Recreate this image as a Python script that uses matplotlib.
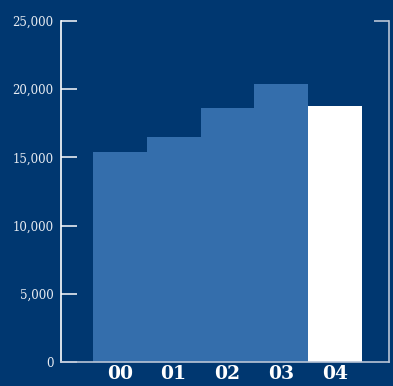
import matplotlib
matplotlib.use("Agg")
import matplotlib.pyplot as plt

# Yıllık değerler (2000-2004)
yillar = ["00", "01", "02", "03", "04"]
degerler = [15400, 16500, 18600, 20400, 18800]
renkler = ["#346eac", "#346eac", "#346eac", "#346eac", "#ffffff"]
y_ticks = [0, 5000, 10000, 15000, 20000, 25000]

arka = "#003770"

fig = plt.figure(figsize=(3.93, 3.86), dpi=100, facecolor=arka)
ax = fig.add_axes([0.154, 0.0622, 0.836, 0.8834], facecolor=arka)

ax.bar(range(len(yillar)), degerler, width=1.0, color=renkler, linewidth=0)

ax.set_xlim(-1.1, 5.0)
ax.set_ylim(0, 25000)
ax.set_yticks(y_ticks)
ax.set_yticklabels([f"{v:,}" for v in y_ticks], family="DejaVu Serif",
                   fontsize=8.5, color="#e8ecf2")
ax.set_xticks(range(len(yillar)))
ax.set_xticklabels(yillar, family="DejaVu Serif", fontsize=13.5,
                   fontweight="bold", color="white")

ax.tick_params(axis="y", direction="in", length=11.5, width=1.2,
               color="#e8ecf2", pad=5)
ax.tick_params(axis="x", length=0, pad=2)

ax.spines["top"].set_visible(False)
ax.spines["left"].set_color("white")
ax.spines["left"].set_linewidth(1.2)
ax.spines["bottom"].set_color("#b8c4d6")
ax.spines["bottom"].set_linewidth(1.2)
ax.spines["right"].set_color("#b8c4d6")
ax.spines["right"].set_linewidth(1.2)

# sağ kenarda sadece üst çentik
ax2 = ax.twinx()
ax2.set_ylim(0, 25000)
ax2.set_yticks([25000])
ax2.set_yticklabels([])
ax2.tick_params(axis="y", direction="in", length=11, width=1.2, color="#b8c4d6")
for s in ax2.spines.values():
    s.set_visible(False)

fig.savefig("out.png", dpi=100, facecolor=arka)
